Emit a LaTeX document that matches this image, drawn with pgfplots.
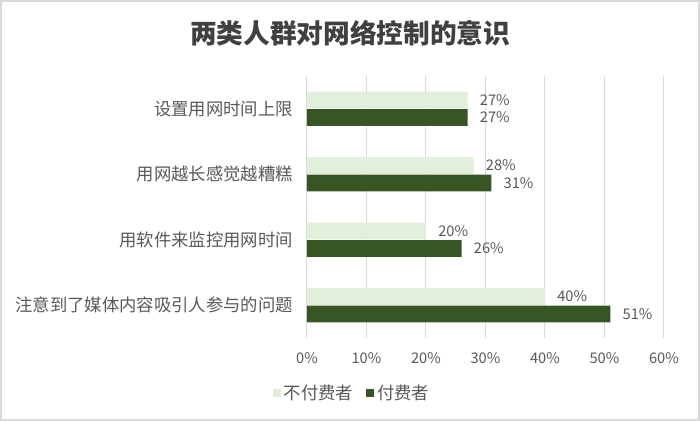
\documentclass[border=0pt]{standalone}
\usepackage{pgfplots}
\pgfplotsset{compat=1.18}
\usepackage{fontspec}
\setmainfont{Noto Sans CJK SC}
\definecolor{lightg}{HTML}{E2EFDA}
\definecolor{darkg}{HTML}{375623}
\definecolor{txt}{HTML}{595959}
\definecolor{gridc}{HTML}{D9D9D9}
\begin{document}
\begin{tikzpicture}[x=1pt,y=1pt]
\fill[white] (0,0) rectangle (525,315.75);
\draw[gridc, line width=1.5pt] (0.75,0.75) rectangle (524.25,315);
\node[font=\fontsize{20}{24}\selectfont\bfseries, text=black!75] at (262.5,291) {两类人群对网络控制的意识};
\begin{axis}[at={(230.25pt,62.25pt)}, anchor=south west, scale only axis,
  width=267.75pt, height=196.5pt,
  xbar, xmin=0, xmax=60, ymin=-0.5, ymax=3.5,
  bar width=12.5pt,
  /pgf/number format/assume math mode=true,
  xtick={0,10,...,60}, xticklabel={\pgfmathprintnumber{\tick}\%},
  ytick={0,1,2,3},
  yticklabels={注意到了媒体内容吸引人参与的问题,用软件来监控用网时间,用网越长感觉越糟糕,设置用网时间上限},
  major tick length=0pt,
  axis line style={draw=none},
  xmajorgrids, grid style={gridc, line width=0.75pt},
  xticklabel style={font=\fontsize{11}{13}\selectfont, text=txt, inner sep=0pt, anchor=center, yshift=-15pt},
  yticklabel style={font=\fontsize{13}{15}\selectfont, text=txt, inner sep=0pt, anchor=east, xshift=-10.5pt},
  nodes near coords={\pgfmathprintnumber{\pgfplotspointmeta}\%},
  nodes near coords style={font=\fontsize{11}{13}\selectfont, text=txt, inner sep=0pt, anchor=west, xshift=9pt},
  legend columns=2,
  legend image code/.code={\draw[#1,draw=none] (0pt,-3pt) rectangle (6pt,3pt);},
  legend style={at={(axis description cs:0.127,-0.21)}, anchor=center, draw=none, fill=none,
    font=\fontsize{13}{15}\selectfont, text=txt,
    /tikz/every even column/.append style={column sep=8pt}},
]
\addplot[fill=lightg, draw=none, bar shift=6.6pt] coordinates {(27,3) (28,2) (20,1) (40,0)};
\addplot[fill=darkg, draw=none, bar shift=-6.6pt] coordinates {(27,3) (31,2) (26,1) (51,0)};
\legend{不付费者,付费者}
\end{axis}
\end{tikzpicture}
\end{document}
